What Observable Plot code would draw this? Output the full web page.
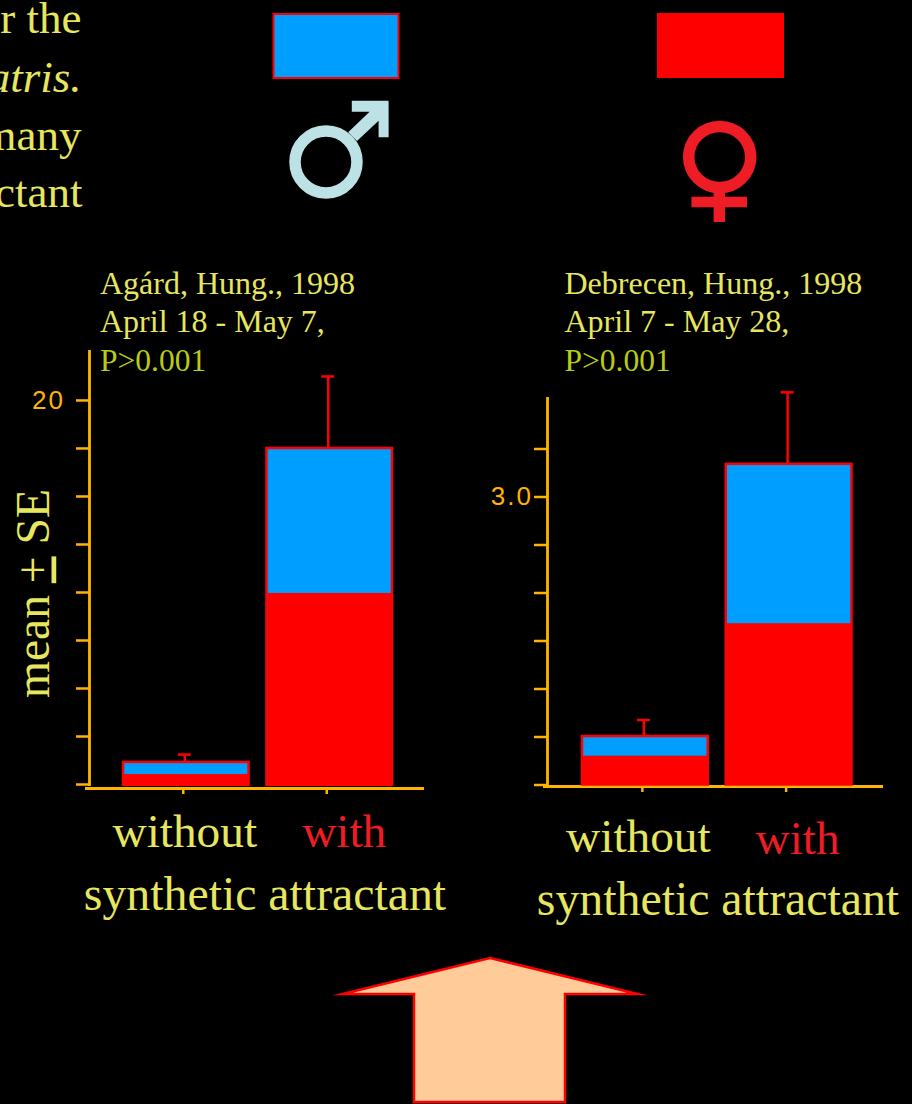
<!DOCTYPE html>
<html>
<head>
<meta charset="utf-8">
<script src="https://cdn.jsdelivr.net/npm/d3@7"></script>
<script src="https://cdn.jsdelivr.net/npm/@observablehq/plot@0.6"></script>
<style>
html,body{margin:0;padding:0;background:#000;width:912px;height:1104px;overflow:hidden}
#page{position:relative;width:912px;height:1104px;background:#000;overflow:hidden}
#page > *{position:absolute;display:block}
</style>
</head>
<body>
<div id="page">
<svg id="top" width="912" height="240" style="left:0;top:0">
  <g font-family="Liberation Serif" font-size="45" fill="#e6e65f" text-anchor="end">
    <text x="81.5" y="33">r the</text>
    <text x="81.5" y="92" font-style="italic">atris.</text>
    <text x="81.5" y="150">many</text>
    <text x="82.5" y="207">ctant</text>
  </g>
  <rect x="273.5" y="14" width="125" height="64" fill="#009fff" stroke="#f00" stroke-width="2"/>
  <rect x="657" y="13" width="127" height="65" fill="#f00"/>
  <g fill="#bde2e6">
    <circle cx="326" cy="162" r="31" fill="none" stroke="#bde2e6" stroke-width="11.5"/>
    <polygon points="351.8,100.7 388.6,100.7 388.6,137.3 378.6,137.3 378.6,120.7 357,141 348.2,132.3 369.6,111.7 351.8,111.7"/>
  </g>
  <g fill="#ee1c25">
    <ellipse cx="719.7" cy="157" rx="31" ry="30.5" fill="none" stroke="#ee1c25" stroke-width="11.5"/>
    <rect x="713.6" y="187" width="11.4" height="35"/>
    <rect x="691.4" y="196.7" width="55.6" height="10.6"/>
  </g>
</svg>
<svg id="arrow" width="912" height="164" style="left:0;top:940">
  <polygon points="490,18 637.5,54 565,54 565,162 414,162 414,54 342.5,54" fill="#ffcc99" stroke="#f00" stroke-width="2.5" stroke-linejoin="miter" stroke-miterlimit="20"/>
</svg>
</div>
<script>
const categories = ["without", "with"];

const agardFemale = [0.52, 9.95];
const agardTotal = [1.15, 17.5];
const agardError = [1.56, 21.25];
const agardTicks = [0, 2.5, 5, 7.5, 10, 12.5, 15, 17.5, 20];
const agardTickLabels = {20: "20"};
const agardTitle = ["Agárd, Hung., 1998", "April 18 - May 7,", "P>0.001"];

const debrecenFemale = [0.3, 1.68];
const debrecenTotal = [0.505, 3.34];
const debrecenError = [0.677, 4.09];
const debrecenTicks = [0, 0.5, 1, 1.5, 2, 2.5, 3, 3.5];
const debrecenTickLabels = {3: "3.0"};
const debrecenTitle = ["Debrecen, Hung., 1998", "April 7 - May 28,", "P>0.001"];

const AXIS = "#ffb400", BLUE = "#009fff", RED = "#ff0000", YELLOW = "#e6e65f", LIME = "#b8cc14", TEXTRED = "#ee1c25";
const SERIF = "Liberation Serif";

function panel(o) {
  const rows = categories.map((c, i) => ({c, female: o.female[i], total: o.total[i], err: o.err[i]}));
  const band = (o.xRange[1] - o.xRange[0]) / 1.875 * 0.875;
  const cap = band / 2 - 6.5;
  const marks = [
    Plot.frame({anchor: "left", stroke: AXIS, strokeWidth: 2.8}),
    Plot.ruleY([0], {dy: o.xAxisDy, insetLeft: -4, stroke: AXIS, strokeWidth: 2.8}),
    Plot.axisY({ticks: o.ticks, tickSize: 13, tickPadding: o.tickPad, stroke: AXIS, fill: AXIS, fontSize: 26,
      fontFamily: "Liberation Sans", tickFormat: d => o.tickLabels[d] || "", label: null}),
    Plot.axisX({tickSize: 6, dx: -3, dy: o.xAxisDy, stroke: AXIS, tickFormat: () => "", label: null}),
    Plot.ruleX(rows, {x: "c", y1: "total", y2: "err", dx: -1.5, stroke: RED, strokeWidth: 2.5}),
    Plot.tickY(rows, {x: "c", y: "err", dx: -1.5, insetLeft: cap, insetRight: cap, stroke: RED, strokeWidth: 2.5}),
    Plot.barY(rows, {x: "c", y1: 0, y2: "total", fill: BLUE, stroke: RED, strokeWidth: 2.5, insetBottom: o.barInset}),
    Plot.barY(rows, {x: "c", y1: 0, y2: "female", fill: RED, insetBottom: o.barInset, insetLeft: 1}),
    Plot.text(categories.slice(0, 1), {x: d => d, text: d => d, frameAnchor: "bottom", lineAnchor: "bottom", dy: o.withoutDy, dx: o.withoutDx, fill: YELLOW, fontSize: 47.3, fontFamily: SERIF}),
    Plot.text(categories.slice(1), {x: d => d, text: d => d, frameAnchor: "bottom", lineAnchor: "bottom", dy: o.withDy, dx: o.withDx, fill: TEXTRED, fontSize: 47.3, fontFamily: SERIF}),
    Plot.text(["synthetic attractant"], {frameAnchor: "bottom", lineAnchor: "bottom", dy: o.synthDy, dx: o.synthDx, fill: YELLOW, fontSize: 47.8, fontFamily: SERIF})
  ];
  o.title.forEach((t, i) => marks.push(Plot.text([t], {
    frameAnchor: "top-left", lineAnchor: "bottom", dx: o.titleDx, dy: o.titleDy[i], fill: i === 2 ? LIME : YELLOW,
    fontSize: i === 2 ? 31.5 : 32, fontFamily: SERIF})));
  if (o.yLabel) marks.push(Plot.text([o.yLabel], {
    frameAnchor: "left", textAnchor: "middle", lineAnchor: "bottom", rotate: -90, dx: -41, dy: 25.5, fill: YELLOW, fontSize: 47.5, fontFamily: SERIF}));
  const plot = Plot.plot({
    width: 456, height: 700, marginTop: o.mt, marginBottom: o.mb, marginLeft: o.ml, marginRight: o.mr,
    style: {background: "transparent", overflow: "visible"},
    x: {type: "band", domain: categories, range: o.xRange, paddingInner: 0.125, paddingOuter: 0, round: false, axis: null},
    y: {domain: [0, o.top], axis: null},
    marks
  });
  plot.style.left = o.left + "px";
  plot.style.top = "240px";
  const sel = d3.select(plot);
  sel.selectAll("text").filter(function(){ return this.textContent === "mean + SE"; })
    .html('mean <tspan text-decoration="underline">+</tspan> SE');
  sel.selectAll('g[aria-label="y-axis tick"], g[aria-label="x-axis tick"]').attr("stroke-width", 2.5);
  sel.selectAll('g[aria-label="y-axis tick label"]').style("letter-spacing", o.tickSpacing);
  document.getElementById("page").appendChild(plot);
}

panel({
  left: 0, mt: 111, mb: 156, ml: 89, mr: 32, top: 22.55, xRange: [123, 392], xAxisDy: 4, barInset: -0.75,
  tickPad: 11.5, tickSpacing: "2px",
  female: agardFemale, total: agardTotal, err: agardError, ticks: agardTicks, tickLabels: agardTickLabels, title: agardTitle,
  titleDx: 10.5, titleDy: [-58, -19.5, 19.5], yLabel: "mean + SE",
  withoutDx: -1.5, withoutDy: 62, withDx: 14.5, withDy: 62, synthDx: 8, synthDy: 125
});
panel({
  left: 456, mt: 158, mb: 155.5, ml: 91, mr: 29, top: 4.026, xRange: [126, 395.5], xAxisDy: 1.5, barInset: 0,
  tickPad: 1.5, tickSpacing: "2px",
  female: debrecenFemale, total: debrecenTotal, err: debrecenError, ticks: debrecenTicks, tickLabels: debrecenTickLabels, title: debrecenTitle,
  titleDx: 17, titleDy: [-105, -66.5, -27.5], yLabel: null,
  withoutDx: -7, withoutDy: 67, withDx: 8.5, withDy: 69, synthDx: 2.5, synthDy: 130
});
</script>
</body>
</html>
